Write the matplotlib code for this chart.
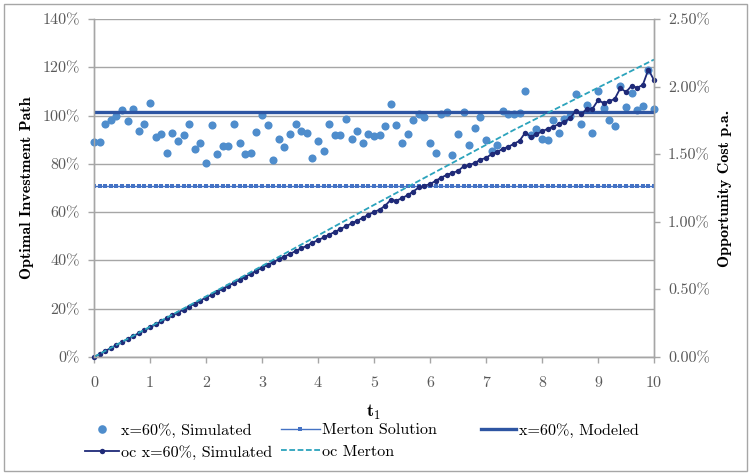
import matplotlib
matplotlib.use("Agg")
import matplotlib.pyplot as plt
from matplotlib.lines import Line2D
from matplotlib.patches import Rectangle
from matplotlib.ticker import FuncFormatter, MultipleLocator

plt.rcParams["font.family"] = "cmr10"
plt.rcParams["mathtext.fontset"] = "cm"
plt.rcParams["axes.unicode_minus"] = False

# time grid t1 = 0.0 ... 10.0
t1 = [round(0.1 * i, 1) for i in range(101)]

# simulated optimal investment path, x=60% (%)
sim_path = [
    89.2, 89.2, 96.4, 98.2, 100.0, 102.3, 97.6, 102.7, 93.7, 96.4,
    105.1, 91.3, 92.4, 84.6, 92.7, 89.6, 92.0, 96.4, 86.0, 88.5,
    80.4, 96.0, 84.1, 87.4, 87.4, 96.6, 88.5, 84.0, 84.6, 93.3,
    100.4, 96.2, 81.5, 90.4, 87.1, 92.4, 96.4, 93.5, 92.8, 82.3,
    89.4, 85.3, 96.5, 92.0, 92.0, 98.7, 90.4, 93.5, 88.6, 92.3,
    91.7, 92.0, 95.6, 104.8, 96.2, 88.5, 92.4, 98.0, 100.7, 99.4,
    88.5, 84.6, 100.7, 101.6, 83.8, 92.5, 101.5, 87.7, 95.0, 99.4,
    90.0, 85.3, 87.9, 101.8, 100.6, 100.6, 100.9, 110.0, 91.8, 94.6,
    90.4, 90.0, 98.0, 92.9, 98.6, 99.8, 109.1, 96.6, 104.4, 92.9,
    110.0, 103.1, 98.0, 95.7, 112.3, 103.7, 109.2, 102.2, 104.0, 118.9,
    102.9,
]
merton_level = 70.7     # Merton solution (%)
modeled_level = 101.5   # x=60%, modeled (%)

# opportunity cost p.a., simulated (%)
oc_sim = [
    0.000, 0.022, 0.044, 0.066, 0.088, 0.110, 0.132, 0.154, 0.176, 0.198,
    0.219, 0.241, 0.263, 0.285, 0.307, 0.329, 0.351, 0.373, 0.395, 0.417,
    0.440, 0.461, 0.483, 0.505, 0.527, 0.549, 0.571, 0.594, 0.615, 0.638,
    0.660, 0.680, 0.701, 0.722, 0.742, 0.763, 0.783, 0.803, 0.823, 0.845,
    0.864, 0.884, 0.905, 0.925, 0.946, 0.967, 0.988, 1.008, 1.030, 1.052,
    1.072, 1.090, 1.119, 1.163, 1.156, 1.175, 1.197, 1.224, 1.254, 1.268,
    1.278, 1.303, 1.327, 1.347, 1.362, 1.376, 1.410, 1.420, 1.435, 1.460,
    1.472, 1.501, 1.516, 1.540, 1.555, 1.577, 1.599, 1.660, 1.629, 1.648,
    1.668, 1.688, 1.704, 1.722, 1.741, 1.766, 1.818, 1.796, 1.835, 1.835,
    1.899, 1.879, 1.891, 1.910, 1.989, 1.960, 2.006, 1.991, 2.013, 2.126,
    2.048,
]
# opportunity cost p.a., Merton (%)
oc_merton_t = [0, 2.5, 5, 7.5, 10]
oc_merton = [0.0, 0.56, 1.125, 1.68, 2.20]

c_sim = "#4F8DCC"
c_merton = "#4472C4"
c_model = "#2E55A2"
c_oc = "#1F2A78"
c_ocm = "#2BA3BC"
c_grid = "#A6A6A6"
c_tick = "#595959"
fs = 11.6

fig = plt.figure(figsize=(7.51, 4.73), dpi=100)
ax = fig.add_axes([94 / 751, 1 - 357 / 473, 560 / 751, 338 / 473])
ax2 = ax.twinx()

ax.scatter(t1, sim_path, s=34, color=c_sim, zorder=3, linewidths=0,
           clip_on=False)
ax.plot(t1, [merton_level] * len(t1), color=c_merton, lw=1.0,
        marker="s", ms=2.8, mew=0, zorder=3)
ax.plot(t1, [modeled_level] * len(t1), color=c_model, lw=2.4, zorder=3)

ax2.plot(t1, oc_sim, color=c_oc, lw=1.3, marker="o", ms=3.9, mew=0,
         clip_on=False)
ax2.plot(oc_merton_t, oc_merton, color=c_ocm, lw=1.3, dashes=(3.2, 1.4))

ax.set_xlim(0, 10)
ax.set_ylim(0, 140)
ax2.set_ylim(0, 2.5)
ax.xaxis.set_major_locator(MultipleLocator(1))
ax.yaxis.set_major_locator(MultipleLocator(20))
ax2.yaxis.set_major_locator(MultipleLocator(0.5))
ax.yaxis.set_major_formatter(FuncFormatter(lambda v, p: f"{v:.0f}%"))
ax2.yaxis.set_major_formatter(FuncFormatter(lambda v, p: f"{v:.2f}%"))

ax.grid(axis="y", color=c_grid, lw=1.0)
ax.set_axisbelow(True)
for a in (ax, ax2):
    a.spines["top"].set_visible(False)
    for side in ("left", "right", "bottom"):
        a.spines[side].set_color(c_grid)
        a.spines[side].set_linewidth(1.0)
    a.tick_params(colors=c_grid, labelcolor=c_tick, labelsize=fs,
                  length=4, width=1.0, direction="out")
ax.tick_params(axis="x", pad=10)
ax.tick_params(axis="y", pad=6)
ax2.tick_params(axis="y", pad=6)

ax.set_xlabel(r"$\mathbf{t_1}$", fontsize=13, labelpad=9)
ax.set_ylabel("Optimal Investment Path", family="cmb10", fontsize=fs,
              labelpad=6)
ax2.set_ylabel("Opportunity Cost p.a.", family="cmb10", fontsize=fs,
               labelpad=6)

# legend, laid out in three columns
h_sim = Line2D([], [], ls="none", marker="o", ms=6.2, color=c_sim, mew=0)
h_oc = Line2D([], [], color=c_oc, lw=1.3, marker="o", ms=3.9, mew=0)
h_merton = Line2D([], [], color=c_merton, lw=1.0, marker="s", ms=2.8, mew=0)
h_ocm = Line2D([], [], color=c_ocm, lw=1.3, dashes=(3.2, 1.4))
h_model = Line2D([], [], color=c_model, lw=2.4)

columns = [
    (85, [h_sim, h_oc], ["x=60%, Simulated", "oc x=60%, Simulated"], 2.1),
    (281, [h_merton, h_ocm], ["Merton Solution", "oc Merton"], 2.4),
    (481, [h_model], ["x=60%, Modeled"], 2.2),
]
for x0, hs, labels, hl in columns:
    fig.legend(hs, labels, loc="upper left",
               bbox_to_anchor=(x0 / 751, 1 - 423 / 473),
               frameon=False, fontsize=fs, handlelength=hl,
               handletextpad=0.15, borderpad=0, borderaxespad=0,
               labelspacing=0.45, numpoints=1)

fig.patches.append(Rectangle((4 / 751, 2 / 473), 743 / 751, 467 / 473,
                             transform=fig.transFigure, fill=False,
                             ec="#A6A6A6", lw=1.0))

fig.savefig("out.png", dpi=100)
